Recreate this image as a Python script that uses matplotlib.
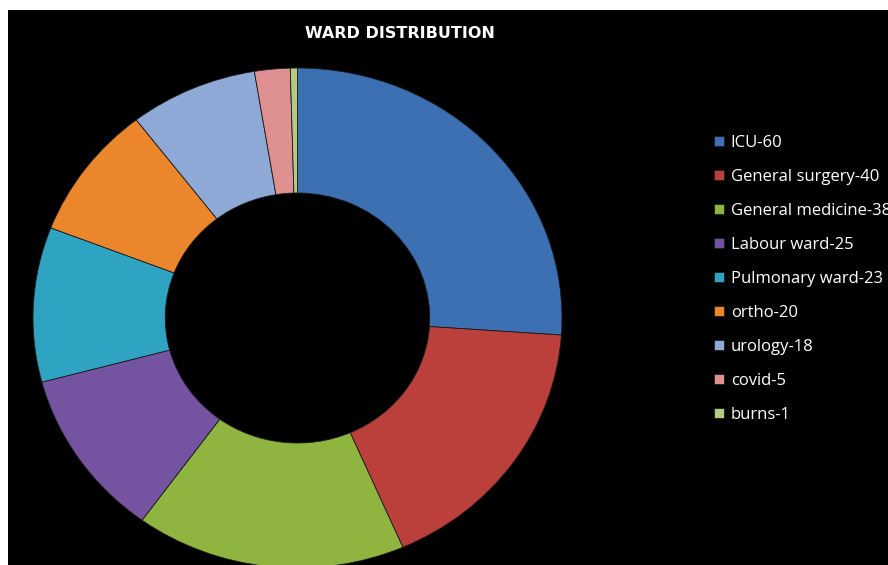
import matplotlib.pyplot as plt
from matplotlib.patches import Rectangle

wards = ['ICU', 'General surgery', 'General medicine', 'Labour ward',
         'Pulmonary ward', 'ortho', 'urology', 'covid', 'burns']
counts = [60, 40, 38, 25, 23, 20, 18, 5, 1]
colors = ['#3d6fb3', '#bb3f3b', '#8fb440', '#7453a0', '#2ea4c2',
          '#ec862c', '#8ea9d6', '#df9090', '#b3cb80']

fig = plt.figure(figsize=(8.88, 5.65), dpi=100, facecolor='white')
# black chart area (white strip left and top like the screenshot)
fig.patches.append(Rectangle((8 / 888, 0), 1, 555 / 565, transform=fig.transFigure,
                             facecolor='black', edgecolor='none', zorder=-5))

ax = fig.add_axes([33 / 888, -3 / 565, 529 / 888, 500 / 565])
wedges, _ = ax.pie(counts, colors=colors, startangle=90, counterclock=False,
                   radius=1, wedgeprops=dict(width=0.5, edgecolor='#1a1a1a', linewidth=0.6))
ax.set_xlim(-1, 1)
ax.set_ylim(-1, 1)
ax.set_aspect('auto')
ax.axis('off')

fig.text(400 / 888, 1 - 33 / 565, 'WARD DISTRIBUTION', color='white', fontsize=11.5,
         fontweight='bold', ha='center', va='center')

labels = [w + '-' + str(c) for w, c in zip(wards, counts)]
leg = fig.legend(wedges, labels, loc='upper left', bbox_to_anchor=(699 / 888, 1 - 120 / 565),
                 frameon=False, labelcolor='white', handlelength=0.6, handleheight=0.6,
                 handletextpad=0.4, labelspacing=1.08, prop={'family': 'Open Sans', 'size': 12})

plt.savefig('out.png', dpi=100, facecolor='white')
